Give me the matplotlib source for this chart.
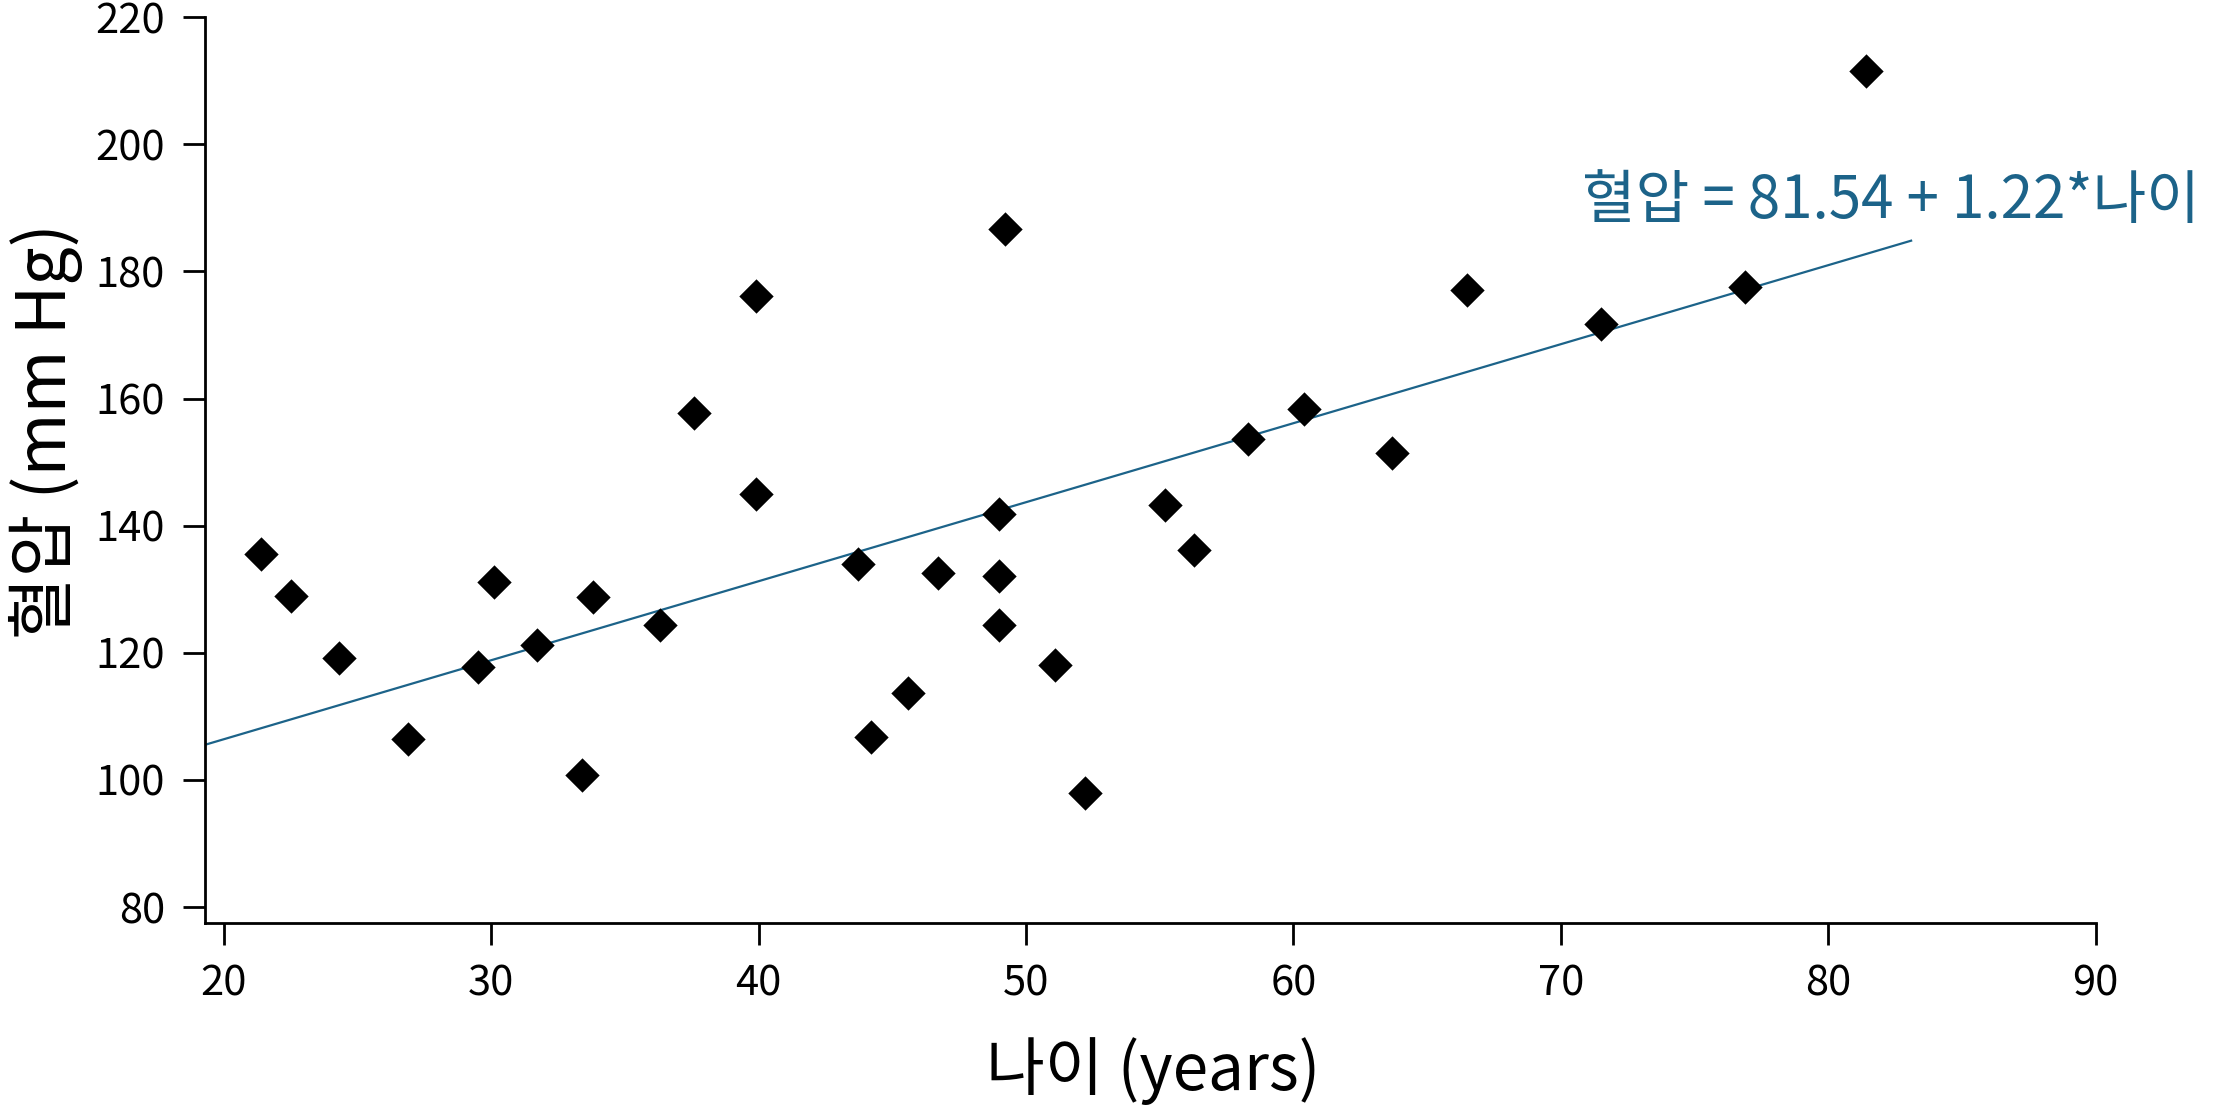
import matplotlib

matplotlib.use("Agg")
import matplotlib.pyplot as plt
import numpy as np

plt.rcParams["font.family"] = ["Noto Sans CJK KR", "DejaVu Sans"]

# age (years) and blood pressure (mm Hg)
age = [21.4, 22.5, 24.3, 26.9, 29.5, 30.1, 31.7, 33.4, 33.8, 36.3, 37.6,
       39.9, 39.9, 43.7, 44.2, 45.6, 46.7, 49.0, 49.0, 49.0, 49.2, 51.1,
       52.2, 55.2, 56.3, 58.3, 60.4, 63.7, 66.5, 71.5, 76.9, 81.4]
bp = [135.6, 129.0, 119.2, 106.5, 117.8, 131.2, 121.2, 100.7, 128.7, 124.3, 157.7,
      176.1, 145.0, 133.9, 106.7, 113.6, 132.5, 141.9, 132.1, 124.3, 186.6, 118.1,
      98.0, 143.2, 136.1, 153.7, 158.3, 151.4, 177.0, 171.7, 177.5, 211.5]

# fitted line as drawn in the reference (slightly steeper than the printed label)
intercept = 81.54
slope = 1.243
fit_range = [19.3, 83.1]
equation = "혈압 = 81.54 + 1.22*나이"

xticks = [20, 30, 40, 50, 60, 70, 80, 90]
yticks = [80, 100, 120, 140, 160, 180, 200, 220]

line_color = "#1c6389"

fig = plt.figure(figsize=(22.19, 11.06), dpi=100)
ax = fig.add_axes([0.0924, 0.1655, 0.852, 0.819])

fx = np.array(fit_range)
ax.plot(fx, intercept + slope * fx, color=line_color, lw=1.6, zorder=2)
ax.scatter(age, bp, marker="D", s=17.5 ** 2, color="black", linewidths=0, zorder=3)

ax.text(70.8, 191, equation, color=line_color, fontsize=42,
        ha="left", va="center", clip_on=False)

ax.set_xlim(19.3, 90)
ax.set_ylim(77.5, 220)
ax.set_xticks(xticks)
ax.set_yticks(yticks)
ax.tick_params(axis="both", length=16, width=2, pad=13, labelsize=30, direction="out")
for side in ("top", "right"):
    ax.spines[side].set_visible(False)
for side in ("left", "bottom"):
    ax.spines[side].set_linewidth(2)
ax.yaxis.get_major_ticks()[-1].tick1line.set_color(line_color)

fig.text(0.0205, 0.61, "혈압 (mm Hg)", rotation=90, ha="center", va="center", fontsize=49)
fig.text(0.5196, 0.0316, "나이 (years)", ha="center", va="center", fontsize=46)

fig.savefig("out.png", dpi=100)
